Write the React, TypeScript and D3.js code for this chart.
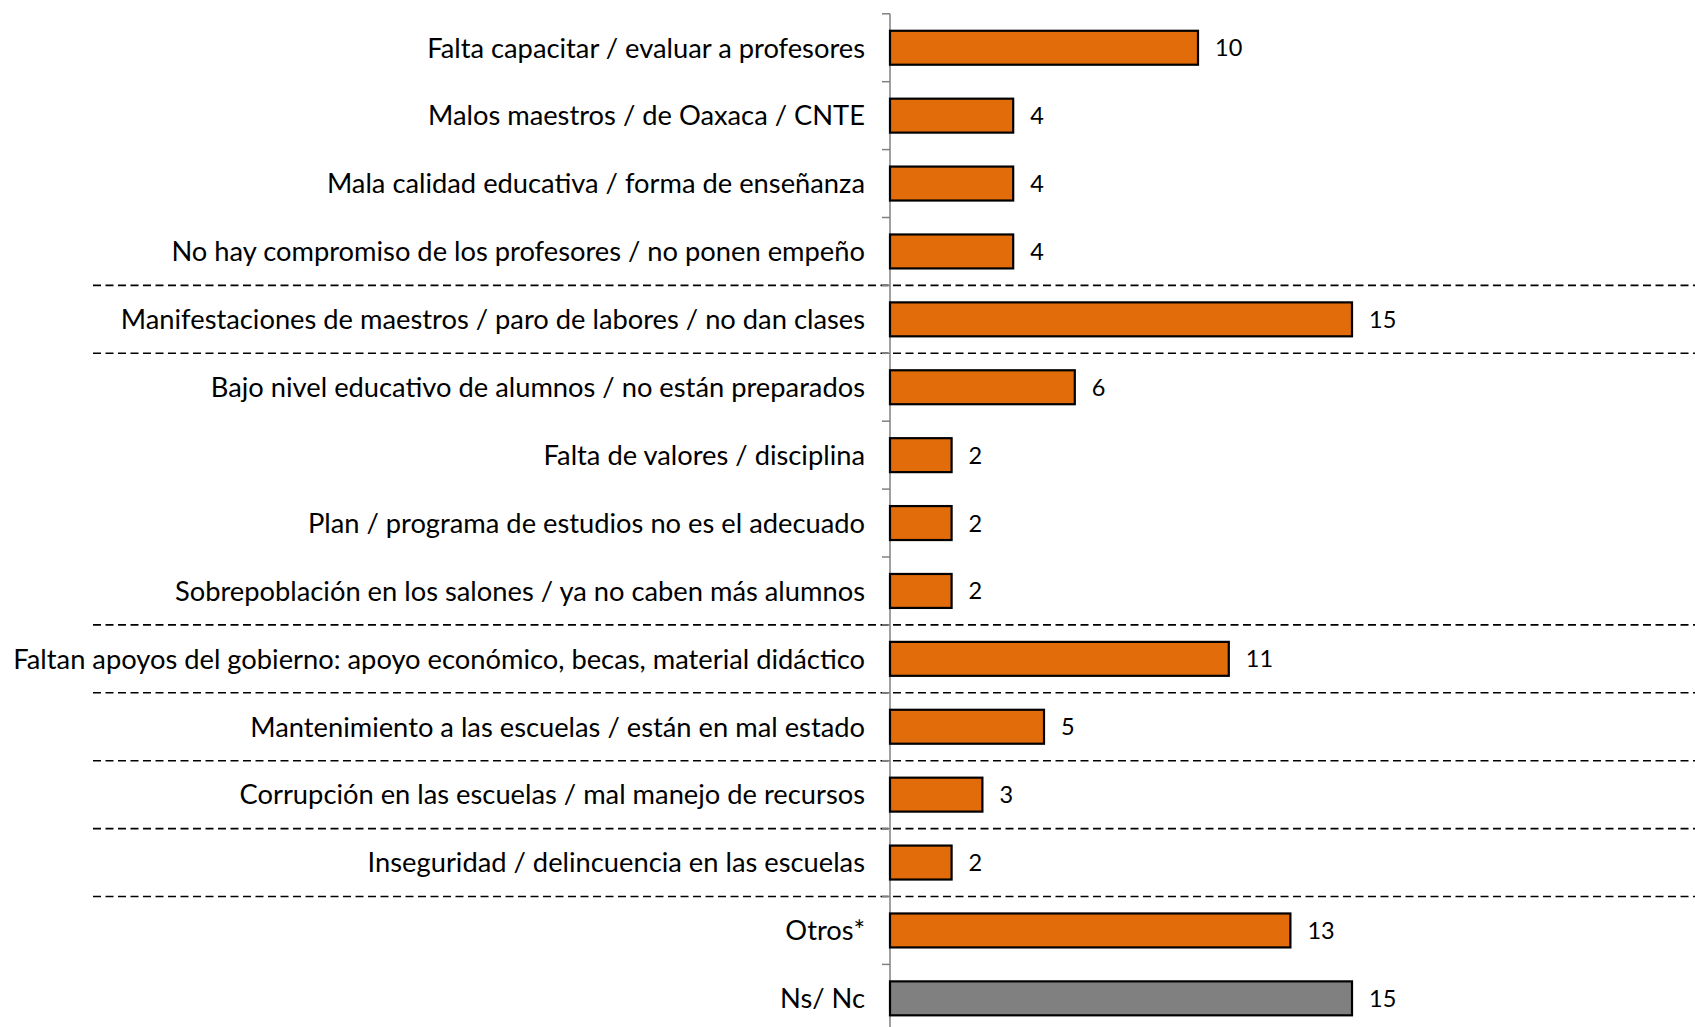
import React from "react";
import * as d3 from "d3";

const categories: string[] = [
  "Falta capacitar / evaluar a profesores",
  "Malos maestros / de Oaxaca / CNTE",
  "Mala calidad educativa / forma de enseñanza",
  "No hay compromiso de los profesores / no ponen empeño",
  "Manifestaciones de maestros / paro de labores / no dan clases",
  "Bajo nivel educativo de alumnos / no están preparados",
  "Falta de valores / disciplina",
  "Plan / programa de estudios no es el adecuado",
  "Sobrepoblación en los salones / ya no caben más alumnos",
  "Faltan apoyos del gobierno: apoyo económico, becas, material didáctico",
  "Mantenimiento a las escuelas / están en mal estado",
  "Corrupción en las escuelas / mal manejo de recursos",
  "Inseguridad / delincuencia en las escuelas",
  "Otros*",
  "Ns/ Nc",
];
const values: number[] = [10, 4, 4, 4, 15, 6, 2, 2, 2, 11, 5, 3, 2, 13, 15];
const grayCategories: string[] = ["Ns/ Nc"];
// indices of categories after which a dashed separator is drawn
const separatorsAfter: number[] = [3, 4, 8, 9, 10, 11, 12];

const W = 1695;
const H = 1027;
const AXIS_X = 890;
const TOP = 13.8;
const STEP = 67.9;

export default function App() {
  const y = d3
    .scaleBand<string>()
    .domain(categories)
    .range([TOP, TOP + STEP * categories.length])
    .paddingInner(0.5)
    .paddingOuter(0.25);
  const x = d3.scaleLinear().domain([0, 15]).range([AXIS_X, AXIS_X + 462]);
  const font = "'Lato', 'Open Sans', sans-serif";
  const boundaries = d3.range(categories.length + 1).map((i) => TOP + i * STEP);

  return (
    <svg
      width={W}
      height={H}
      style={{ position: "absolute", left: 0, top: 0, background: "#fff" }}
    >
      {separatorsAfter.map((i) => (
        <line
          key={"sep" + i}
          x1={93}
          x2={W}
          y1={boundaries[i + 1]}
          y2={boundaries[i + 1]}
          stroke="#000"
          strokeWidth={1.6}
          strokeDasharray="8 4.5"
        />
      ))}
      <line
        x1={AXIS_X}
        x2={AXIS_X}
        y1={TOP}
        y2={boundaries[boundaries.length - 1]}
        stroke="#808080"
        strokeWidth={1.5}
      />
      {boundaries.map((b, i) => (
        <line
          key={"t" + i}
          x1={AXIS_X - 8}
          x2={AXIS_X}
          y1={b}
          y2={b}
          stroke="#808080"
          strokeWidth={1.5}
        />
      ))}
      {categories.map((c, i) => {
        const yy = y(c)!;
        const bw = y.bandwidth();
        const cy = yy + bw / 2;
        return (
          <g key={c}>
            <rect
              x={x(0)}
              y={yy}
              width={x(values[i]) - x(0)}
              height={bw}
              fill={grayCategories.includes(c) ? "#808080" : "#E36C0A"}
              stroke="#000"
              strokeWidth={2.2}
            />
            <text
              x={865}
              y={cy + 9.8}
              textAnchor="end"
              fontFamily={font}
              fontSize={27.3}
              fill="#000"
            >
              {c}
            </text>
            <text
              x={x(values[i]) + 17}
              y={cy + 8.5}
              fontFamily={font}
              fontSize={23.5}
              fill="#000"
            >
              {values[i]}
            </text>
          </g>
        );
      })}
    </svg>
  );
}
